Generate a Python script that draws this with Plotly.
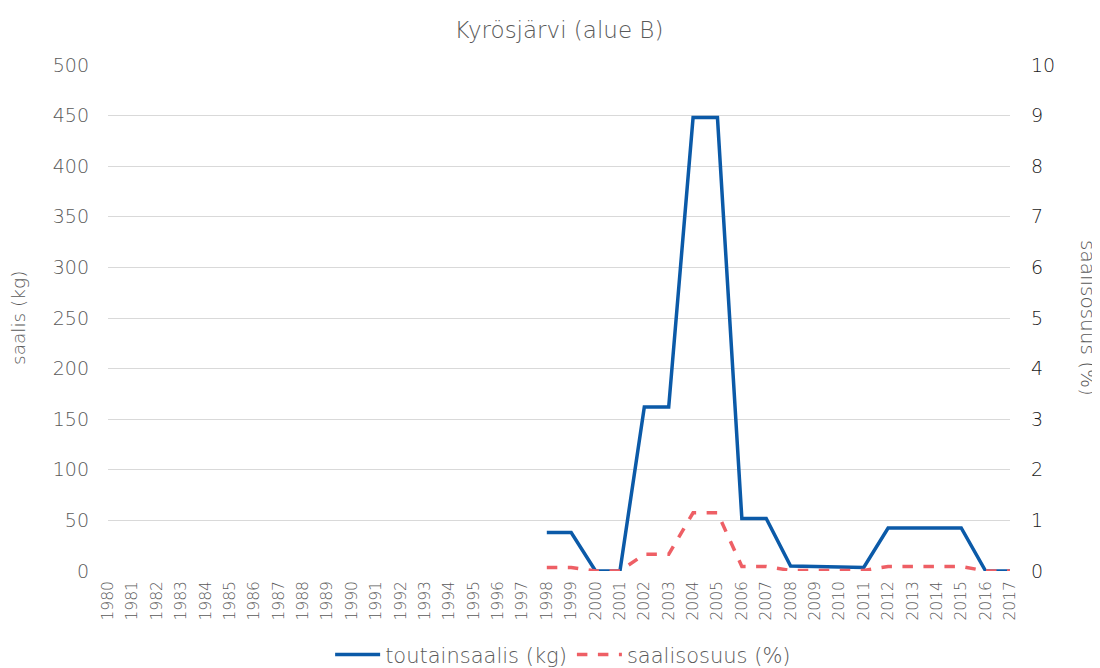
import plotly.graph_objects as go

years = [str(y) for y in range(1980, 2018)]
catch_kg = [None] * 18 + [38, 38, 0, 0, 162, 162, 448, 448, 52, 52, 5, 4.5, 3.5, 3.5, 42.5, 42.5, 42.5, 42.5, 0, 0]
share_pct = [None] * 18 + [0.07, 0.07, 0.0, 0.0, 0.33, 0.33, 1.15, 1.15, 0.09, 0.09, 0.01, 0.01, 0.01, 0.01, 0.09, 0.09, 0.09, 0.09, 0.0, 0.0]

FONT = "DejaVu Sans"
GREY = "#595959"
W = 200

fig = go.Figure()
fig.add_trace(go.Scatter(x=years, y=catch_kg, name="toutainsaalis (kg)", mode="lines",
                         line=dict(color="#0B5AA8", width=3.5), yaxis="y"))
fig.add_trace(go.Scatter(x=years, y=share_pct, name="saalisosuus (%)", mode="lines",
                         line=dict(color="#EE5F65", width=3.5, dash="dash"), yaxis="y2"))

# page body offsets the figure by 8px, so size/margins compensate
fig.update_layout(
    width=1092, height=660,
    paper_bgcolor="white", plot_bgcolor="white",
    font=dict(family=FONT, color=GREY, weight=W),
    title=dict(text="Kyrösjärvi (alue B)", x=(100 + 451) / 1092, xanchor="center", y=0.967, yanchor="middle",
               font=dict(size=23, color=GREY, family=FONT, weight=W)),
    margin=dict(l=100, r=90, t=57, b=97, autoexpand=False),
    xaxis=dict(type="category", tickangle=-90, tickfont=dict(size=15.5, color=GREY, weight=W),
               showgrid=False, showline=False, ticks="", ticklen=0, automargin=False,
               ticklabelstandoff=6),
    yaxis=dict(range=[0, 500], dtick=50, showgrid=True, gridcolor="#d9d9d9", gridwidth=1,
               zeroline=False, tickfont=dict(size=19, color=GREY, weight=W), automargin=False,
               ticklabelstandoff=18),
    yaxis2=dict(range=[0, 10], dtick=1, overlaying="y", side="right", showgrid=False,
                zeroline=False, tickfont=dict(size=19, color="#1a1a1a", weight=W), automargin=False,
                ticklabelstandoff=20),
    legend=dict(orientation="h", x=(100 + 451) / 1092, xanchor="center", y=0.02, yref="container",
                yanchor="middle", font=dict(size=21, color=GREY, weight=W), itemwidth=45),
    annotations=[
        dict(text="saalis (kg)", textangle=-90, xref="paper", yref="paper", xanchor="center",
             x=0, xshift=-90, y=0.5, showarrow=False,
             font=dict(size=18.5, color=GREY, family=FONT, weight=W)),
        dict(text="saalisosuus (%)", textangle=90, xref="paper", yref="paper", xanchor="center",
             x=1.0, xshift=78, y=0.5, showarrow=False,
             font=dict(size=20, color=GREY, family=FONT, weight=W)),
    ],
)

fig.write_html("out.html")
